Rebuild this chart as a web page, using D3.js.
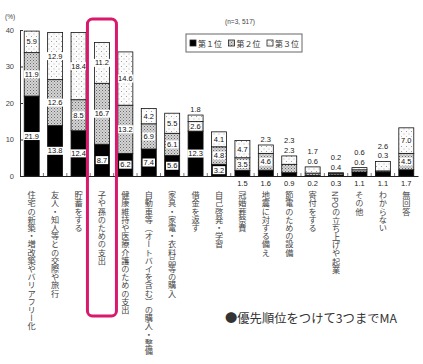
<!DOCTYPE html>
<html><head><meta charset="utf-8">
<script src="https://cdn.jsdelivr.net/npm/d3@7"></script>
<style>
html,body{margin:0;padding:0;background:#fff;}
svg{display:block;}
</style></head>
<body>
<script>
const categories = [
 "住宅の新築・増改築やバリアフリー化","友人・知人等との交際や旅行","貯蓄をする","子や孫のための支出",
 "健康維持や医療介護のための支出","自動車等（オートバイを含む）の購入・整備","家具・家電・衣料品等の購入",
 "借金を返す","自己啓発・学習","冠婚葬祭費","地震に対する備え","節電のための設備","寄付をする",
 "NPOの立ち上げや起業","その他","わからない","無回答"];
const rank1 = [21.9,13.8,12.4,8.7,6.2,7.4,5.6,12.3,3.2,1.5,1.6,0.9,0.2,0.3,1.1,1.1,1.7];
const rank2 = [11.9,12.6,8.5,16.7,13.2,6.9,6.1,2.6,4.8,3.5,4.6,2.3,0.6,0.4,0.6,0.3,4.5];
const rank3 = [5.9,12.9,18.4,11.2,14.6,4.2,5.5,1.8,4.1,4.7,2.3,2.3,1.7,0.2,0.6,2.6,7.0];
const yTicks = [0,10,20,30,40];
const legendLabels = ["第１位","第２位","第３位"];
const highlighted = "子や孫のための支出";
const sampleNote = "(n=3, 517)";
const footNote = "●優先順位をつけて3つまでMA";

const W = 423, H = 364;
const svg = d3.select("body").append("svg").attr("width", W).attr("height", H);
const defs = svg.append("defs");
// pattern for 2nd (dense stipple grey)
const p2 = defs.append("pattern").attr("id","p2").attr("patternUnits","userSpaceOnUse").attr("width",3).attr("height",3);
p2.append("rect").attr("width",3).attr("height",3).attr("fill","#d4d4d4");
p2.append("rect").attr("x",0).attr("y",0).attr("width",1).attr("height",1).attr("fill","#6a6a6a");
p2.append("rect").attr("x",1.5).attr("y",1.5).attr("width",1).attr("height",1).attr("fill","#8a8a8a");
// pattern for 3rd (sparse dots)
const p3 = defs.append("pattern").attr("id","p3").attr("patternUnits","userSpaceOnUse").attr("width",5).attr("height",5);
p3.append("rect").attr("width",5).attr("height",5).attr("fill","#fbfbfb");
p3.append("rect").attr("x",1).attr("y",1).attr("width",1).attr("height",1).attr("fill","#a0a0a0");
p3.append("rect").attr("x",3.5).attr("y",3.5).attr("width",1).attr("height",1).attr("fill","#b8b8b8");

const fills = ["#000","url(#p2)","url(#p3)"];
const x = d3.scaleBand().domain(categories).range([20,418]).paddingInner(0.36).paddingOuter(0.18);
const y = d3.scaleLinear().domain([0,40]).range([176,30]);

const data = categories.map((c,i)=>({cat:c, v:[rank1[i],rank2[i],rank3[i]]}));
const stack = d3.stack().keys([0,1,2]).value((d,k)=>d.v[k]);
const series = stack(data);

const numFont = "'Liberation Sans', Arial, sans-serif";
const jpFont = "'Noto Sans CJK JP', sans-serif";

// bars
series.forEach((s,k)=>{
  svg.append("g").selectAll("rect").data(s).join("rect")
    .attr("x", d=>x(d.data.cat)).attr("width", x.bandwidth())
    .attr("y", d=>y(d[1])).attr("height", d=>y(d[0])-y(d[1]))
    .attr("fill", fills[k]).attr("stroke","#111").attr("stroke-width",0.8);
});

// axes
const yAxis = svg.append("g").attr("transform","translate(20,0)")
  .call(d3.axisLeft(y).tickValues(yTicks).tickSize(-3).tickSizeOuter(0).tickPadding(6));
yAxis.selectAll("text").attr("font-family",numFont).attr("font-size",7.5).attr("fill","#444");
yAxis.selectAll("line,path").attr("stroke","#333");

const xAxis = svg.append("g").attr("transform","translate(0,176)")
  .call(d3.axisBottom(x).tickSize(0).tickFormat(""));
xAxis.select(".domain").attr("stroke","#222").attr("stroke-width",1.2);
// small marks between bars
svg.append("g").selectAll("line").data(categories.slice(1)).join("line")
  .attr("x1", d=>x(d)-x.step()*x.paddingInner()/2).attr("x2", d=>x(d)-x.step()*x.paddingInner()/2)
  .attr("y1",176).attr("y2",173).attr("stroke","#555").attr("stroke-width",0.8);

svg.append("text").attr("x",5).attr("y",19).text("(%)")
  .attr("font-family",numFont).attr("font-size",6.5).attr("fill","#444");

// value labels
const TH = 2.5;
data.forEach((d,i)=>{
  const cx = x(d.cat)+x.bandwidth()/2;
  const inside = [d.v[0]>=TH, d.v[1]>=TH, d.v[1]>=TH && d.v[2]>=TH];
  let outIdx = 0;
  const top = y(series[2][i][1]);
  [0,1,2].forEach(k=>{
    const val = d.v[k].toFixed(1);
    if (inside[k]) {
      const cy = (y(series[k][i][0]) + y(series[k][i][1]))/2;
      const g = svg.append("g");
      const t = g.append("text").attr("x",cx).attr("y",cy+2.6).attr("text-anchor","middle")
        .attr("font-family",numFont).attr("font-size",7.5).attr("fill","#111").text(val);
      const bb = t.node().getBBox();
      g.insert("rect","text").attr("x",bb.x-1).attr("y",cy-4).attr("width",bb.width+2).attr("height",8)
        .attr("fill","#fff");
    } else if (k===0) {
      svg.append("text").attr("x",cx).attr("y",186).attr("text-anchor","middle")
        .attr("font-family",numFont).attr("font-size",7.5).attr("fill","#222").text(val);
    } else {
      svg.append("text").attr("x",cx).attr("y",top-3-outIdx*9.5).attr("text-anchor","middle")
        .attr("font-family",numFont).attr("font-size",7.5).attr("fill","#222").text(val);
      outIdx++;
    }
  });
});

// category labels (vertical)
svg.append("g").selectAll("text").data(categories).join("text")
  .attr("x", d=>x(d)+x.bandwidth()/2).attr("y",191)
  .style("writing-mode","vertical-rl")
  .attr("font-family",jpFont).attr("font-size",8.2).attr("fill","#444")
  .text(d=>d);

// legend
const lg = svg.append("g");
lg.append("rect").attr("x",186).attr("y",34).attr("width",116).attr("height",18)
  .attr("fill","#fff").attr("stroke","#666").attr("stroke-width",1);
legendLabels.forEach((l,k)=>{
  const lx = 190 + k*38.5;
  lg.append("rect").attr("x",lx).attr("y",40).attr("width",6).attr("height",6)
    .attr("fill",fills[k]).attr("stroke","#222").attr("stroke-width",0.8);
  lg.append("text").attr("x",lx+8).attr("y",46.5).attr("font-family",jpFont).attr("font-size",8)
    .attr("fill","#333").text(l);
});
svg.append("text").attr("x",240).attr("y",24).attr("text-anchor","middle")
  .attr("font-family",numFont).attr("font-size",6.5).attr("fill","#444").text(sampleNote);

// highlight
const hx = x(highlighted)+x.bandwidth()/2;
svg.append("rect").attr("x",hx-14.5).attr("y",19).attr("width",29).attr("height",297).attr("rx",5)
  .attr("fill","none").attr("stroke","#d8196c").attr("stroke-width",3);

// foot note
svg.append("text").attr("x",225).attr("y",323).attr("font-family",jpFont).attr("font-size",12)
  .attr("fill","#333").attr("textLength",172).attr("lengthAdjust","spacingAndGlyphs").text(footNote);
</script>
</body></html>
